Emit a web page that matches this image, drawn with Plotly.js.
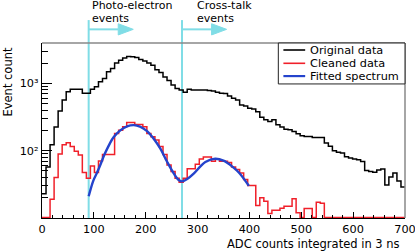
<!DOCTYPE html>
<html>
<head>
<meta charset="utf-8">
<script src="https://cdn.plot.ly/plotly-3.0.1.min.js"></script>
<style>html,body{margin:0;padding:0;background:#fff;}#chart{width:415px;height:251px;}</style>
</head>
<body>
<div id="chart"></div>
<script>
// ---- data ----
var binLow = 0, binHigh = 700, nBins = 90;
var seriesNames = ["Original data", "Cleaned data", "Fitted spectrum"];
var originalCounts = [
  23, 57, 123, 224, 390, 566, 751, 815, 815, 815,
  711, 711, 815, 891, 1057, 1186, 1484, 1666, 2015, 2208,
  2388, 2505, 2490, 2421, 2263, 2159, 2015, 1862, 1600, 1446,
  1240, 1100, 944, 838, 796, 736, 815, 796, 796, 796,
  796, 783, 770, 736, 711, 706, 649, 600, 566, 478,
  462, 427, 417, 380, 315, 287, 271, 287, 242, 224,
  209, 204, 193, 178, 167, 163, 163, 157, 157, 157,
  130, 116, 100, 95, 92.5, 81.5, 78, 75.4, 73.6, 68.8,
  50.7, 49, 47.8, 51.5, 53.3, 30.9, 40.6, 46.6, 35.4, 28.9
];
var cleanedCounts = [
  0, 0, 19, 40, 89, 123, 131, 115, 98, 86.5,
  47.3, 39, 59.4, 47.3, 70.5, 88, 88, 88, 180, 202,
  226, 262, 262, 245, 245, 226, 180, 161, 144, 115,
  88, 61.5, 49, 39, 34, 39, 53.7, 53.7, 62.8, 75,
  80.7, 80.7, 69.5, 75, 69.5, 69.5, 66.6, 57.4, 52.4, 46.8,
  37.3, 30.4, 30.4, 15.4, 20, 17.8, 11.7, 13, 13, 13.9,
  15, 15, 19.4, 12, 0, 13.8, 13.8, 0, 17.2, 16.5,
  0, 0, 0, 0, 0, 0, 0, 0, 0, 0,
  0, 0, 0, 0, 0, 0, 0, 0, 0, 0
];
var fitX = [90, 99, 106, 113, 120, 127, 138, 151, 164, 177, 189, 202, 215, 228, 241, 254, 263, 270, 280, 293, 305, 315, 334, 350, 367, 380, 399];
var fitY = [21, 36, 47, 63, 86, 112, 158, 200, 230, 240, 228, 197, 152, 108, 69, 46, 37, 35, 38, 46, 58, 68, 76, 71, 58, 47, 30];
var regionEdges = [90, 270];
var regionLabels = [["Photo-electron", "events"], ["Cross-talk", "events"]];
var xTickVals = [0, 100, 200, 300, 400, 500, 600, 700];
var yTickVals = [100, 1000];
var yTickText = ["10\u00b2", "10\u00b3"];
var yMinorVals = [20, 30, 40, 50, 60, 70, 80, 90, 200, 300, 400, 500, 600, 700, 800, 900, 2000, 3000];
var xTitle = "ADC counts integrated in 3 ns";
var yTitle = "Event count";

// ---- build ----
var yRange = [1.0, 3.6];
var floorVal = Math.pow(10, yRange[0] + 0.006);
var binW = (binHigh - binLow) / nBins;
var edges = [];
for (var i = 0; i <= nBins; i++) edges.push(binLow + i * binW);
function stepY(arr) {
  var out = arr.map(function (v) { return v > 0 ? v : floorVal; });
  out.push(out[out.length - 1]);
  return out;
}
var colors = ["#000000", "#f0202a", "#2443cc"];
var cyan = "#80dde6";
var FONT = "DejaVu Sans";

var traces = [
  {x: edges, y: stepY(originalCounts), type: "scatter", mode: "lines", name: seriesNames[0],
   line: {color: colors[0], width: 1.5, shape: "hv"}, showlegend: false},
  {x: edges, y: stepY(cleanedCounts), type: "scatter", mode: "lines", name: seriesNames[1],
   line: {color: colors[1], width: 1.5, shape: "hv"}, showlegend: false},
  {x: fitX, y: fitY, type: "scatter", mode: "lines", name: seriesNames[2],
   line: {color: colors[2], width: 2.4, shape: "spline", smoothing: 1}, showlegend: false}
];

var shapes = [];
var annotations = [];
// frame top/right
shapes.push({type: "line", xref: "paper", yref: "paper", x0: 0, x1: 1, y0: 1, y1: 1, line: {color: "#888", width: 1.5}});
shapes.push({type: "line", xref: "paper", yref: "paper", x0: 1, x1: 1, y0: 0, y1: 1, line: {color: "#888", width: 1.5}});
// region markers
var arrowY = 1.078, headLen = 29, headHalf = 0.032, lineLen = 57;
regionEdges.forEach(function (xe, k) {
  shapes.push({type: "line", xref: "x", yref: "paper", x0: xe, x1: xe, y0: 0, y1: 1.131, layer: "below", line: {color: cyan, width: 2}});
  shapes.push({type: "line", xref: "x", yref: "paper", x0: xe, x1: xe + lineLen, y0: arrowY, y1: arrowY, line: {color: cyan, width: 2}});
  var b = xe + lineLen, t = xe + lineLen + headLen;
  shapes.push({type: "path", xref: "x", yref: "paper",
    path: "M " + b + " " + (arrowY + headHalf) + " L " + t + " " + arrowY + " L " + b + " " + (arrowY - headHalf) + " Z",
    fillcolor: cyan, line: {color: cyan, width: 1}});
});
var labelX = [0.134, 0.424];
regionLabels.forEach(function (lab, k) {
  annotations.push({xref: "paper", yref: "paper", x: labelX[k], y: 1.216, xanchor: "left", yanchor: "middle", showarrow: false,
    text: lab[0], font: {family: FONT, size: 11, color: "#000"}, borderpad: 0});
  annotations.push({xref: "paper", yref: "paper", x: labelX[k], y: 1.14, xanchor: "left", yanchor: "middle", showarrow: false,
    text: lab[1], font: {family: FONT, size: 11, color: "#000"}, borderpad: 0});
});
// axis titles
annotations.push({xref: "paper", yref: "paper", x: 0.749, y: -0.15, xanchor: "center", yanchor: "middle", showarrow: false,
  text: xTitle, font: {family: FONT, size: 11.5, color: "#000"}});
annotations.push({xref: "paper", yref: "paper", x: -0.094, y: 0.779, xanchor: "center", yanchor: "middle", showarrow: false, textangle: -90,
  text: yTitle, font: {family: FONT, size: 11.5, color: "#000"}, borderpad: 0});
// legend box
shapes.push({type: "rect", xref: "paper", yref: "paper", x0: 0.651, x1: 1, y0: 0.766, y1: 1, fillcolor: "#fff", line: {color: "#222", width: 1}, layer: "above"});
var legRows = [0.96, 0.884, 0.811];
seriesNames.forEach(function (nm, k) {
  shapes.push({type: "line", xref: "paper", yref: "paper", x0: 0.665, x1: 0.725, y0: legRows[k], y1: legRows[k], line: {color: colors[k], width: k === 2 ? 2.2 : 1.6}});
  annotations.push({xref: "paper", yref: "paper", x: 0.734, y: legRows[k], xanchor: "left", yanchor: "middle", showarrow: false,
    text: nm, font: {family: FONT, size: 11.3, color: "#000"}});
});

var layout = {
  width: 415, height: 251,
  margin: {l: 42, r: 10, t: 43, b: 33, pad: 0},
  paper_bgcolor: "#fff", plot_bgcolor: "#fff",
  showlegend: false,
  font: {family: FONT, size: 11.3, color: "#000"},
  xaxis: {range: [binLow, binHigh], tickmode: "array", tickvals: xTickVals, ticks: "inside", ticklen: 6, tickcolor: "#000",
    minor: {dtick: 20, tick0: 0, ticks: "inside", ticklen: 3, tickcolor: "#000"},
    showline: true, linecolor: "#000", linewidth: 1.2, showgrid: false, zeroline: false,
    ticklabeloverflow: "allow",
    tickfont: {family: FONT, size: 11.3, color: "#000"}},
  yaxis: {type: "log", range: yRange, tickmode: "array", tickvals: yTickVals, ticktext: yTickText, ticks: "inside", ticklen: 10, tickcolor: "#000",
    minor: {tickmode: "array", tickvals: yMinorVals, ticks: "inside", ticklen: 6, tickcolor: "#000"},
    showline: true, linecolor: "#000", linewidth: 1.2, showgrid: false, zeroline: false,
    tickfont: {family: FONT, size: 11.3, color: "#000"}},
  shapes: shapes,
  annotations: annotations
};
Plotly.newPlot("chart", traces, layout, {staticPlot: true, displayModeBar: false});
</script>
</body>
</html>
